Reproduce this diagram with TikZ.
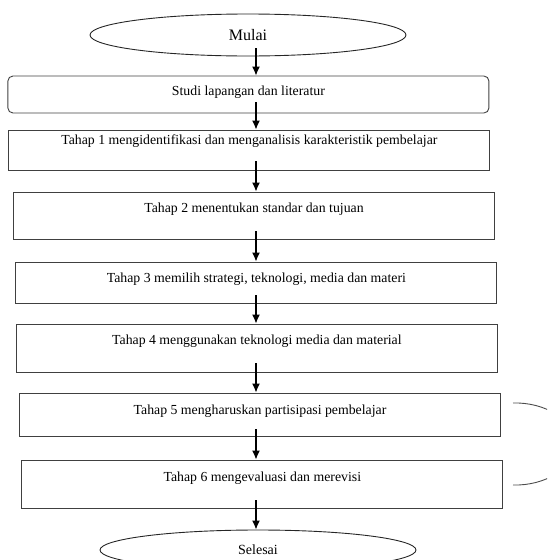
\documentclass[tikz,border=0pt]{standalone}
\usepackage{fontspec}
\setmainfont{Liberation Serif}
\usepackage{tikz}
\usetikzlibrary{shapes.geometric}
\usetikzlibrary{arrows.meta}

\tikzset{
  terminal/.style={draw=black!85, line width=0.9pt, ellipse, inner sep=0pt, minimum width=316pt},
  stage/.style={draw=black!75, line width=0.9pt, rectangle, inner sep=0pt, minimum width=481pt, font=\fontsize{13.8}{16}\selectfont},
  arr/.style={-{Latex[length=9pt,width=8pt]}, line width=1.3pt}
}

\begin{document}
\begin{tikzpicture}[x=1pt,y=-1pt]
          \useasboundingbox (0,0) rectangle (547,560);
          \clip (0,0) rectangle (547,560);
          \coordinate (ax) at (256,0);
          \node[terminal, minimum height=42pt, font=\fontsize{16}{18}\selectfont] (mulai) at (248,35) {Mulai};
          \node[stage, rounded corners=5pt, text height=19pt, text depth=18pt] (studi) at (248.4,94.5) {Studi lapangan dan literatur};
          \node[stage, text height=14pt, text depth=26pt] (t1) at (249.4,150) {Tahap 1 mengidentifikasi dan menganalisis karakteristik pembelajar};
          \node[stage, text height=20pt, text depth=27pt] (t2) at (254,215.5) {Tahap 2 menentukan standar dan tujuan};
          \node[stage, text height=20pt, text depth=21pt] (t3) at (256.4,282.5) {Tahap 3 memilih strategi, teknologi, media dan materi};
          \node[stage, text height=20pt, text depth=28pt] (t4) at (256.9,348) {Tahap 4 menggunakan teknologi media dan material};
          \node[stage, text height=21pt, text depth=22pt] (t5) at (260,414.5) {Tahap 5 mengharuskan partisipasi pembelajar};
          \node[stage, text height=21pt, text depth=27pt] (t6) at (262.3,484) {Tahap 6 mengevaluasi dan merevisi};
          \node[terminal, minimum height=40pt, font=\fontsize{14}{16}\selectfont] (selesai) at (258,550) {Selesai};
          \draw[arr] (mulai.center -| ax) ++(0,13) -- (studi.north -| ax);
          \draw[arr] (studi.center -| ax) ++(0,7.5) -- (t1.north -| ax);
          \draw[arr] (t1.south -| ax) ++(0,-9) -- (t2.north -| ax);
          \draw[arr] (t2.south -| ax) ++(0,-8) -- (t3.north -| ax);
          \draw[arr] (t3.south -| ax) ++(0,-8) -- (t4.north -| ax);
          \draw[arr] (t4.south -| ax) ++(0,-9) -- (t5.north -| ax);
          \draw[arr] (t5.south -| ax) ++(0,-7) -- (t6.north -| ax);
          \draw[arr] (t6.south -| ax) ++(0,-8) -- (selesai.north -| ax);
          \draw[black!70, line width=0.9pt] (513,403) .. controls (545,402) and (575,420) .. (575,444) .. controls (575,468) and (545,486) .. (513,485);
        \end{tikzpicture}
\end{document}
